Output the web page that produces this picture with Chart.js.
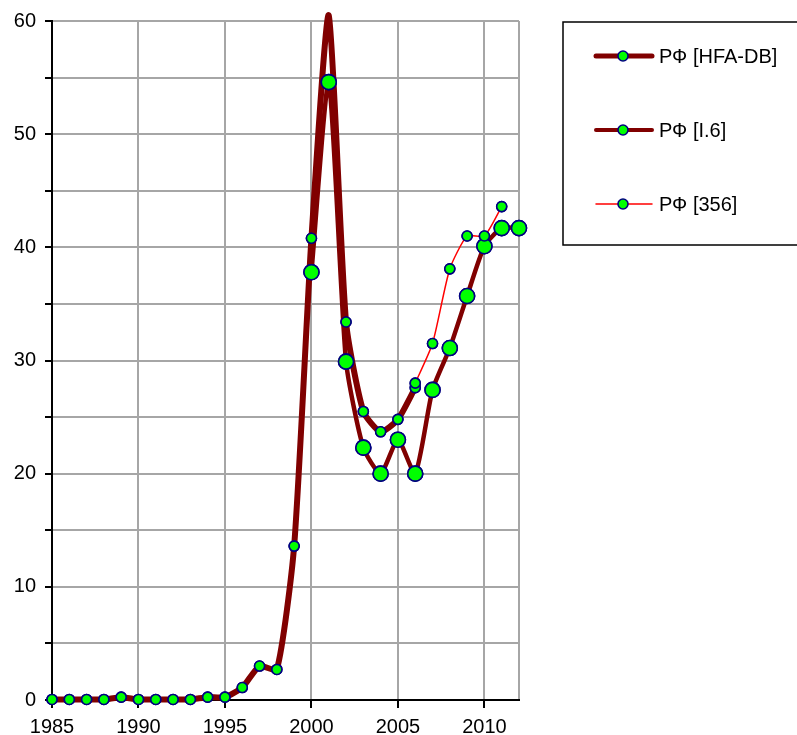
<!DOCTYPE html>
<html>
<head>
<meta charset="utf-8">
<title>РФ</title>
<script src="https://cdn.jsdelivr.net/npm/chart.js@4.4.1/dist/chart.umd.min.js"></script>
<style>
  html, body { margin: 0; padding: 0; background: #fff; overflow: hidden; }
  #wrap { width: 797px; height: 735px; position: relative; }
</style>
</head>
<body>
<div id="wrap"><canvas id="chart"></canvas></div>
<script>
// ---------- Data ----------
const YEARS_HFA = [1985, 1986, 1987, 1988, 1989, 1990, 1991, 1992, 1993, 1994, 1995,
  1996, 1997, 1998, 1999, 2000, 2001, 2002, 2003, 2004, 2005, 2006];
const VALUES_HFA = [0.05, 0.05, 0.05, 0.05, 0.25, 0.05, 0.05, 0.05, 0.05, 0.25, 0.25,
  1.1, 3.0, 2.7, 13.6, 40.8, 60.5, 33.4, 25.5, 23.7, 24.8, 27.6];

const YEARS_I6 = [2000, 2001, 2002, 2003, 2004, 2005, 2006, 2007, 2008, 2009, 2010, 2011, 2012];
const VALUES_I6 = [37.8, 54.6, 29.9, 22.3, 20.0, 23.0, 20.0, 27.4, 31.1, 35.7, 40.1, 41.7, 41.7];

const YEARS_356 = [2006, 2007, 2008, 2009, 2010, 2011];
const VALUES_356 = [28.0, 31.5, 38.1, 41.0, 41.0, 43.6];

const SERIES_LABELS = ["РФ [HFA-DB]", "РФ [I.6]", "РФ [356]"];
const X_TICKS = [1985, 1990, 1995, 2000, 2005, 2010];
const X_MIN = 1985;
const X_MAX = 2012;
const Y_MAX = 60;

// ---------- Style ----------
const FONT = '"Liberation Sans", Arial, sans-serif';
const COLORS = {
  maroon: "#800000",
  red: "#ff0000",
  marker: "#00ff00",
  markerEdge: "#000080",
  grid: "#a6a6a6",
  ink: "#000000",
};

const toPoints = (xs, ys) => xs.map((x, i) => ({ x, y: ys[i] }));

// markers above the axis range are not drawn (like the peak in 2001)
const radiusIn = (r) => (ctx) => (ctx.raw && ctx.raw.y > Y_MAX ? 0 : r);

const datasets = [
  {
    label: SERIES_LABELS[0],
    data: toPoints(YEARS_HFA, VALUES_HFA),
    borderColor: COLORS.maroon,
    borderWidth: 6,
    pointRadius: radiusIn(5),
    order: 3,
    legendWidth: 5,
  },
  {
    label: SERIES_LABELS[1],
    data: toPoints(YEARS_I6, VALUES_I6),
    borderColor: COLORS.maroon,
    borderWidth: 4.5,
    pointRadius: radiusIn(7.5),
    order: 2,
    legendWidth: 4,
  },
  {
    label: SERIES_LABELS[2],
    data: toPoints(YEARS_356, VALUES_356),
    borderColor: COLORS.red,
    borderWidth: 1.5,
    pointRadius: radiusIn(5),
    order: 1,
    legendWidth: 1.5,
  },
].map((d) => ({
  ...d,
  pointBackgroundColor: COLORS.marker,
  pointBorderColor: COLORS.markerEdge,
  pointBorderWidth: 1.6,
  tension: 0.2,
  clip: false,
  fill: false,
}));

// ---------- Markers of every series above all the lines ----------
const markersOnTop = {
  id: "markersOnTop",
  afterDatasetsDraw(chart) {
    const c = chart.ctx;
    const metas = chart.getSortedVisibleDatasetMetas().slice().reverse();
    c.save();
    metas.forEach((meta) => {
      meta.data.forEach((pt) => {
        if (pt.options && pt.options.radius > 0) pt.draw(c);
      });
    });
    c.restore();
  },
};

// ---------- Boxed legend on the right ----------
const boxLegend = {
  id: "boxLegend",
  afterDraw(chart) {
    const c = chart.ctx;
    c.save();
    c.strokeStyle = COLORS.ink;
    c.lineWidth = 1.5;
    c.strokeRect(563, 22, 300, 223);
    c.font = "20px " + FONT;
    c.textBaseline = "middle";
    chart.data.datasets.forEach((ds, i) => {
      const y = 56 + i * 74;
      c.beginPath();
      c.strokeStyle = ds.borderColor;
      c.lineWidth = ds.legendWidth;
      c.lineCap = "round";
      c.moveTo(596, y);
      c.lineTo(652, y);
      c.stroke();
      c.beginPath();
      c.arc(623, y, 5, 0, Math.PI * 2);
      c.fillStyle = COLORS.marker;
      c.fill();
      c.lineWidth = 1.6;
      c.strokeStyle = COLORS.markerEdge;
      c.stroke();
      c.fillStyle = COLORS.ink;
      c.fillText(ds.label, 659, y + 1);
    });
    c.restore();
  },
};

new Chart(document.getElementById("chart"), {
  type: "line",
  data: { datasets },
  plugins: [markersOnTop, boxLegend],
  options: {
    responsive: true,
    maintainAspectRatio: false,
    animation: false,
    layout: { padding: { top: 21, right: 278, left: 0, bottom: 0 } },
    plugins: { legend: { display: false }, tooltip: { enabled: false } },
    scales: {
      x: {
        type: "linear",
        min: X_MIN,
        max: X_MAX,
        afterFit: (s) => { s.height = 35; },
        // every 5 years plus the right edge (gridline only)
        afterBuildTicks: (s) => { s.ticks = [...X_TICKS, X_MAX].map((v) => ({ value: v })); },
        ticks: {
          autoSkip: false,
          maxRotation: 0,
          padding: 7,
          color: COLORS.ink,
          font: { family: FONT, size: 20 },
          callback: (v) => (X_TICKS.includes(v) ? String(v) : ""),
        },
        grid: {
          color: COLORS.grid,
          lineWidth: 2,
          tickLength: 8,
          tickWidth: 2,
          tickColor: (ctx) => (ctx.tick && X_TICKS.includes(ctx.tick.value) ? COLORS.ink : "rgba(0,0,0,0)"),
        },
        border: { color: COLORS.ink, width: 2 },
      },
      y: {
        min: 0,
        max: Y_MAX,
        afterFit: (s) => { s.width = 52; },
        ticks: {
          stepSize: 5,
          autoSkip: false,
          padding: 9,
          color: COLORS.ink,
          font: { family: FONT, size: 20 },
          callback: (v) => (v % 10 === 0 ? String(v) : ""),
        },
        grid: {
          color: COLORS.grid,
          lineWidth: 2,
          tickLength: 7,
          tickWidth: 2,
          tickColor: COLORS.ink,
        },
        border: { color: COLORS.ink, width: 2 },
      },
    },
  },
});
</script>
</body>
</html>
